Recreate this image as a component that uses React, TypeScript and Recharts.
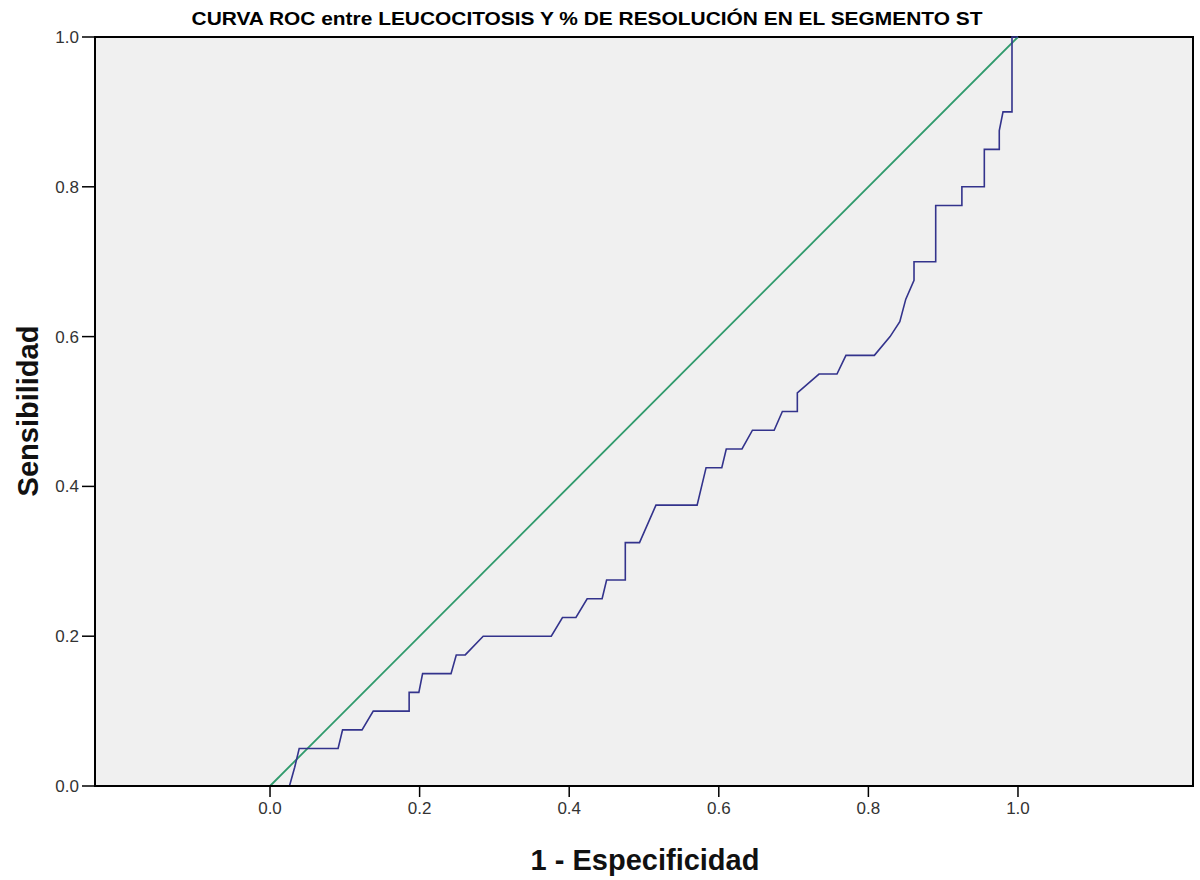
import React from 'react';
import { ComposedChart, Line, XAxis, YAxis, ReferenceArea } from 'recharts';

const rocFpr = [0.026, 0.033, 0.039, 0.091, 0.097, 0.123, 0.138, 0.186, 0.186, 0.199, 0.204, 0.242, 0.249, 0.261, 0.285, 0.376, 0.391, 0.409, 0.424, 0.444, 0.45, 0.475, 0.475, 0.494, 0.516, 0.571, 0.583, 0.604, 0.61, 0.631, 0.645, 0.674, 0.685, 0.705, 0.705, 0.734, 0.758, 0.77, 0.808, 0.829, 0.842, 0.85, 0.861, 0.861, 0.89, 0.89, 0.925, 0.925, 0.955, 0.955, 0.975, 0.975, 0.98, 0.992, 0.992, 1.0];
const rocTpr = [0, 0.025, 0.05, 0.05, 0.075, 0.075, 0.1, 0.1, 0.125, 0.125, 0.15, 0.15, 0.175, 0.175, 0.2, 0.2, 0.225, 0.225, 0.25, 0.25, 0.275, 0.275, 0.325, 0.325, 0.375, 0.375, 0.425, 0.425, 0.45, 0.45, 0.475, 0.475, 0.5, 0.5, 0.525, 0.55, 0.55, 0.575, 0.575, 0.6, 0.62, 0.65, 0.675, 0.7, 0.7, 0.775, 0.775, 0.8, 0.8, 0.85, 0.85, 0.875, 0.9, 0.9, 1.0, 1.0];
const refX = [0, 1];
const refY = [0, 1];
const xTicks = [0, 0.2, 0.4, 0.6, 0.8, 1.0];
const yTicks = [0, 0.2, 0.4, 0.6, 0.8, 1.0];
const title = 'CURVA ROC entre LEUCOCITOSIS Y % DE RESOLUCIÓN EN EL SEGMENTO ST';
const xTitle = '1 - Especificidad';
const yTitle = 'Sensibilidad';

const rocData = rocFpr.map((x, i) => ({ x, roc: rocTpr[i] }));
const refData = refX.map((x, i) => ({ x, ref: refY[i] }));

const X_MIN = -0.234;
const X_MAX = 1.234;
const FONT = 'Arial, "Liberation Sans", sans-serif';

export default function App() {
  return (
    <div style={{ position: 'fixed', left: 0, top: 0, width: 1200, height: 880, background: '#ffffff', fontFamily: FONT }}>
      <div style={{ position: 'absolute', left: 587, top: 8, width: 0, height: 0 }}>
        <div style={{ position: 'absolute', transform: 'translateX(-50%) scaleX(1.1)', whiteSpace: 'nowrap', fontWeight: 'bold', fontSize: 19, color: '#000', fontFamily: FONT }}>{title}</div>
      </div>
      <ComposedChart width={1200} height={880} margin={{ top: 37, right: 7, bottom: 0, left: 0 }}>
        <XAxis
          type="number"
          dataKey="x"
          domain={[X_MIN, X_MAX]}
          ticks={xTicks}
          allowDataOverflow
          height={94}
          tickSize={11}
          tickMargin={5}
          tickFormatter={(v: number) => v.toFixed(1)}
          tick={{ fontSize: 17, fill: '#333', fontFamily: FONT }}
          axisLine={{ stroke: '#000', strokeWidth: 2 }}
          tickLine={{ stroke: '#000', strokeWidth: 1.5 }}
        />
        <YAxis
          type="number"
          domain={[0, 1]}
          ticks={yTicks}
          width={95}
          tickSize={13}
          tickMargin={3}
          tickFormatter={(v: number) => v.toFixed(1)}
          tick={{ fontSize: 17, fill: '#333', fontFamily: FONT }}
          axisLine={{ stroke: '#000', strokeWidth: 2 }}
          tickLine={{ stroke: '#000', strokeWidth: 1.5 }}
        />
        <ReferenceArea x1={X_MIN} x2={X_MAX} y1={0} y2={1} fill="#f0f0f0" fillOpacity={1} stroke="#000" strokeWidth={2} ifOverflow="extendDomain" />
        <Line data={refData} dataKey="ref" type="linear" stroke="#2f9a6c" strokeWidth={1.8} dot={false} isAnimationActive={false} />
        <Line data={rocData} dataKey="roc" type="linear" stroke="#33338c" strokeWidth={1.6} dot={false} isAnimationActive={false} />
      </ComposedChart>
      <div style={{ position: 'absolute', left: 645, top: 860, width: 0, height: 0 }}>
        <div style={{ position: 'absolute', transform: 'translate(-50%, -50%)', whiteSpace: 'nowrap', fontWeight: 'bold', fontSize: 29, color: '#111' }}>{xTitle}</div>
      </div>
      <div style={{ position: 'absolute', left: 28, top: 411, width: 0, height: 0 }}>
        <div style={{ position: 'absolute', transform: 'translate(-50%, -50%) rotate(-90deg)', whiteSpace: 'nowrap', fontWeight: 'bold', fontSize: 29, color: '#111' }}>{yTitle}</div>
      </div>
    </div>
  );
}
